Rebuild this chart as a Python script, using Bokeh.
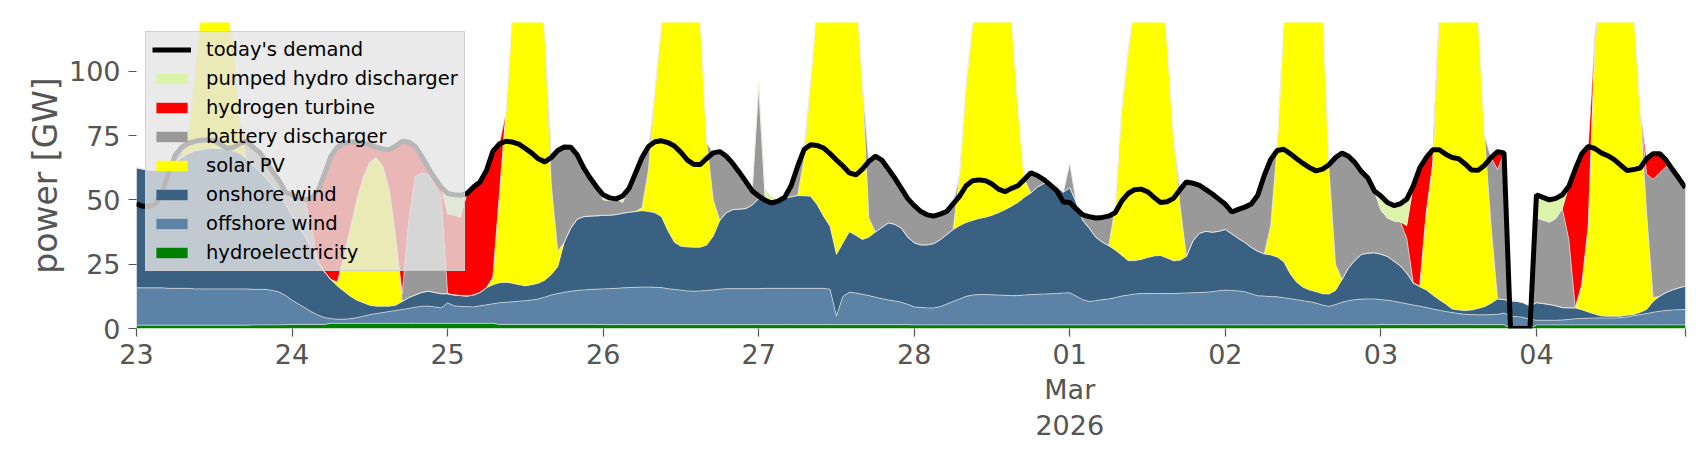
import pandas as pd
from bokeh.plotting import figure
from bokeh.models import ColumnDataSource, Range1d, FixedTicker, Legend, LegendItem
from bokeh.transform import stack
from bokeh.embed import file_html
from bokeh.resources import INLINE

# hourly time axis, 23 Feb 2026 00:00 .. 4 Mar 2026 23:00
time = pd.date_range("2026-02-23 00:00", periods=240, freq="h")

# ---- series values [GW] (one row per day) ----
hydroelectricity = [
    1.3, 1.3, 1.3, 1.3, 1.3, 1.3, 1.3, 1.3, 1.3, 1.3, 1.3, 1.3, 1.3, 1.3, 1.3, 1.3, 1.3, 1.3, 1.4, 1.4, 1.4, 1.4, 1.4, 1.5,
    1.6, 1.6, 1.6, 1.6, 1.6, 1.6, 2.0, 2.0, 2.0, 2.0, 2.0, 2.0, 2.0, 2.0, 2.0, 2.0, 2.0, 2.0, 2.0, 2.0, 2.0, 2.0, 2.0, 2.0,
    2.0, 2.0, 2.0, 2.0, 2.0, 2.0, 2.0, 2.0, 1.6, 1.6, 1.6, 1.6, 1.6, 1.6, 1.6, 1.6, 1.6, 1.6, 1.6, 1.6, 1.6, 1.6, 1.6, 1.6,
    1.5, 1.5, 1.5, 1.5, 1.5, 1.5, 1.5, 1.5, 1.5, 1.5, 1.5, 1.5, 1.5, 1.5, 1.5, 1.5, 1.5, 1.5, 1.5, 1.5, 1.5, 1.5, 1.5, 1.5,
    1.5, 1.5, 1.5, 1.5, 1.5, 1.5, 1.5, 1.5, 1.5, 1.5, 1.5, 1.5, 1.5, 1.5, 1.5, 1.5, 1.5, 1.5, 1.5, 1.5, 1.5, 1.5, 1.5, 1.5,
    1.4, 1.4, 1.4, 1.4, 1.4, 1.4, 1.4, 1.4, 1.4, 1.4, 1.4, 1.4, 1.4, 1.4, 1.4, 1.4, 1.4, 1.4, 1.4, 1.4, 1.4, 1.4, 1.4, 1.4,
    1.4, 1.4, 1.4, 1.4, 1.4, 1.4, 1.4, 1.4, 1.4, 1.4, 1.4, 1.4, 1.4, 1.4, 1.4, 1.4, 1.4, 1.4, 1.4, 1.4, 1.4, 1.4, 1.4, 1.4,
    1.4, 1.4, 1.4, 1.4, 1.4, 1.4, 1.4, 1.4, 1.4, 1.4, 1.4, 1.4, 1.4, 1.4, 1.4, 1.4, 1.4, 1.4, 1.4, 1.4, 1.4, 1.4, 1.4, 1.4,
    1.5, 1.5, 1.5, 1.5, 1.5, 1.5, 1.5, 1.5, 1.5, 1.5, 1.5, 1.5, 1.5, 1.5, 1.5, 1.5, 1.5, 1.5, 1.5, 1.5, 0.0, 0.0, 0.0, 0.0,
    1.4, 1.4, 1.4, 1.4, 1.4, 1.4, 1.4, 1.4, 1.4, 1.4, 1.4, 1.4, 1.4, 1.4, 1.4, 1.4, 1.4, 1.4, 1.4, 1.4, 1.4, 1.4, 1.4, 1.4,
]

offshore_wind = [
    14.5, 14.5, 14.5, 14.5, 14.5, 14.3, 14.3, 14.3, 14.3, 14.1, 14.1, 14.1, 14.1, 14.1, 14.1, 14.1, 14.1, 14.1, 13.8, 13.8, 13.8, 13.4, 12.8, 11.3,
    9.4, 7.9, 6.4, 4.9, 3.6, 2.7, 1.8, 1.6, 1.6, 1.8, 2.2, 2.8, 3.4, 3.8, 4.2, 4.6, 5.0, 5.4, 5.8, 6.3, 6.6, 6.7, 6.4, 6.0,
    8.0, 6.8, 6.6, 6.5, 6.4, 6.8, 7.2, 7.6, 8.4, 8.6, 8.8, 9.0, 9.2, 9.5, 9.9, 10.6, 11.4, 12.0, 12.5, 12.9, 13.2, 13.4, 13.6, 13.7,
    13.9, 14.0, 14.1, 14.3, 14.4, 14.5, 14.6, 14.6, 14.5, 14.4, 14.0, 13.7, 13.4, 13.1, 13.0, 13.1, 13.3, 13.5, 13.8, 14.0, 14.0, 14.0, 14.0, 14.0,
    14.0, 14.1, 14.1, 14.1, 14.1, 14.1, 14.1, 14.1, 14.1, 14.1, 14.1, 13.8, 3.3, 11.0, 12.6, 12.3, 11.8, 11.3, 10.7, 10.1, 9.6, 9.2, 8.7, 7.9,
    7.0, 6.8, 6.6, 6.6, 7.1, 8.1, 9.1, 10.1, 11.1, 11.6, 11.8, 11.8, 11.7, 11.6, 11.5, 11.4, 11.4, 11.6, 11.8, 11.9, 12.0, 12.1, 12.2, 12.4,
    12.5, 11.2, 9.8, 9.1, 9.4, 9.8, 10.1, 10.6, 11.2, 11.6, 12.0, 12.2, 12.2, 12.2, 12.2, 12.2, 12.2, 12.3, 12.4, 12.5, 12.6, 12.7, 12.9, 13.3,
    13.5, 13.4, 13.2, 12.9, 12.1, 11.3, 11.2, 11.0, 10.9, 10.6, 10.2, 9.8, 9.4, 9.0, 8.5, 7.7, 7.2, 7.9, 8.8, 9.4, 9.8, 10.0, 10.1, 10.1,
    9.7, 9.5, 9.1, 8.6, 8.1, 7.6, 7.2, 6.7, 6.1, 5.6, 5.1, 4.7, 4.3, 4.0, 3.9, 3.8, 3.8, 3.9, 4.0, 4.5, 4.8, 4.6, 4.3, 3.6,
    1.8, 1.8, 1.8, 1.8, 1.9, 2.1, 2.4, 2.5, 2.6, 2.7, 2.7, 2.7, 2.7, 2.8, 3.1, 3.6, 4.0, 4.4, 4.9, 5.3, 5.6, 5.8, 5.9, 6.0,
]

onshore_wind = [
    46.7, 46.2, 45.7, 45.7, 46.2, 47.4, 48.9, 50.9, 52.4, 53.6, 54.1, 54.6, 54.6, 54.6, 54.1, 53.6, 52.6, 50.6, 48.3, 45.8, 43.3, 40.7, 37.8, 35.7,
    33.0, 30.5, 28.0, 24.5, 20.8, 17.7, 15.2, 12.9, 10.9, 8.7, 6.8, 5.2, 3.6, 2.9, 2.5, 2.1, 2.0, 3.1, 4.2, 4.7, 5.4, 5.8, 5.6, 5.5,
    3.5, 4.2, 4.2, 4.1, 4.6, 5.2, 6.6, 7.4, 7.8, 7.8, 7.2, 6.4, 5.8, 5.9, 6.1, 6.6, 8.0, 10.4, 19.4, 24.5, 27.7, 28.5, 28.5, 28.5,
    28.6, 28.5, 28.7, 29.0, 29.3, 29.5, 29.7, 29.4, 29.0, 27.6, 22.5, 18.3, 17.1, 17.1, 17.1, 17.0, 17.7, 21.0, 26.7, 29.5, 30.7, 30.9, 31.1, 32.5,
    35.0, 34.7, 34.5, 34.8, 35.2, 35.6, 36.1, 36.0, 35.8, 32.6, 28.1, 24.5, 24.0, 20.8, 23.5, 22.4, 21.3, 22.7, 25.3, 27.7, 29.9, 29.8, 28.8, 26.1,
    24.9, 24.3, 24.5, 25.0, 26.0, 27.0, 28.0, 28.5, 28.7, 29.0, 29.6, 30.1, 30.9, 32.0, 33.3, 34.7, 36.2, 38.0, 39.5, 41.7, 43.0, 43.1, 41.6, 39.2,
    40.8, 36.4, 30.8, 28.5, 24.7, 22.4, 20.7, 18.5, 15.9, 13.4, 13.0, 13.2, 14.0, 14.6, 14.8, 13.8, 12.7, 12.8, 14.2, 20.1, 23.0, 23.7, 23.1, 23.1,
    23.6, 22.0, 20.4, 19.2, 18.0, 17.3, 16.4, 16.2, 15.5, 14.0, 9.7, 6.8, 5.2, 4.6, 4.4, 4.4, 4.8, 5.5, 8.8, 12.7, 15.3, 17.4, 17.8, 17.9,
    17.7, 17.0, 15.6, 14.2, 11.9, 8.6, 7.5, 6.8, 5.4, 4.1, 2.9, 1.4, 1.4, 1.5, 1.8, 2.5, 3.2, 4.4, 6.0, 5.2, 6.0, 6.0, 5.7, 5.2,
    6.8, 6.5, 6.1, 5.6, 4.8, 4.5, 4.2, 3.4, 2.4, 1.5, 0.8, 0.7, 0.7, 0.6, 0.7, 0.4, 0.9, 1.6, 4.2, 5.8, 7.0, 7.8, 8.5, 9.1,
]

solar_pv = [
    0, 0, 0, 0, 0, 0, 0, 1.0, 7.0, 31.0, 54.5, 66.0, 68.0, 63.0, 54.5, 41.0, 12.0, 0, 0, 0, 0, 0, 0, 0,
    0, 0, 0, 0, 0, 0, 0, 1.5, 13.5, 26.5, 39.0, 49.0, 55.5, 57.8, 54.3, 45.3, 26.0, 0, 0, 0, 0, 0, 0, 0,
    0, 0, 0, 0, 0, 0, 0, 3.0, 34.2, 66.0, 104.4, 118.0, 125.4, 123.0, 112.4, 96.2, 35.0, 6.0, 0, 0, 0, 0, 0, 0,
    0, 0, 0, 0, 0, 0, 1.2, 16.5, 48.0, 74.5, 97.0, 111.5, 116.0, 113.3, 103.4, 88.4, 39.5, 14.0, 0, 0, 0, 0, 0, 0,
    0, 0, 0, 0, 0, 0, 0, 14.4, 44.6, 76.8, 96.3, 110.2, 121.2, 111.7, 102.4, 98.8, 60.4, 7.5, 0, 0, 0, 0, 0, 0,
    0, 0, 0, 0, 0, 0, 0, 20.0, 53.8, 76.0, 92.2, 98.7, 101.0, 95.0, 85.8, 74.5, 37.0, 7.0, 0, 0, 0, 0, 0, 0,
    0, 0, 0, 0, 0, 0, 0, 16.5, 56.5, 81.6, 99.6, 108.2, 112.4, 111.8, 106.6, 84.6, 48.7, 21.5, 0, 0, 0, 0, 0, 0,
    0, 0, 0, 0, 0, 0, 0, 11.4, 43.2, 92.0, 113.7, 127.0, 132.0, 130.0, 123.7, 112.5, 48.6, 10.2, 0, 0, 0, 0, 0, 0,
    0, 0, 0, 0, 0, 0, 0.3, 30.0, 51.0, 110.8, 128.5, 140.4, 144.8, 143.0, 134.8, 114.2, 66.5, 30.2, 0, 0, 0, 0, 0, 0,
    0, 0, 0, 0, 0, 0, 0, 9.7, 33.6, 104.4, 130.1, 140.2, 145.2, 143.2, 134.8, 119.6, 78.7, 37.6, 1.5, 0, 0, 0, 0, 0,
]

battery_discharger = [
    0, 0, 0, 0, 0, 0, 3.0, 3.0, 0, 0, 0, 0, 0, 0, 0, 0, 0, 6.8, 7.0, 7.5, 6.5, 5.5, 5.5, 4.5,
    8.0, 10.8, 14.2, 8.0, 0, 0, 0, 0, 0, 0, 0, 0, 0, 0, 0, 0, 0, 3.0, 30.0, 46.0, 46.5, 45.5, 42.0, 38.0,
    0, 0, 0, 0, 0, 0, 0, 0, 0, 0, 0, 0, 0, 0, 0, 0, 10.5, 39.2, 37.1, 31.5, 25.0, 19.0, 14.8, 11.2,
    6.0, 5.8, 6.1, 4.2, 9.3, 15.0, 19.5, 6.8, 0, 0, 0, 0, 0, 0, 0, 0, 0, 18.3, 26.8, 22.0, 18.0, 14.4, 10.6, 5.5,
    44.0, 0, 0, 0, 0.2, 4.3, 11.3, 3.6, 0, 0, 0, 0, 0, 0, 0, 0, 0, 22.0, 29.5, 26.2, 21.0, 18.0, 15.5, 15.0,
    14.5, 13.0, 11.7, 10.7, 10.0, 9.0, 10.0, 0, 0, 0, 0, 0, 0, 0, 0, 0, 0, 0, 7.9, 4.5, 1.5, 0, 0, 0,
    9.7, 0, 2.2, 4.5, 7.5, 9.6, 11.5, 0, 0, 0, 0, 0, 0, 0, 0, 0, 0, 6.0, 29.0, 22.5, 18.7, 16.2, 14.9, 12.5,
    9.8, 8.5, 11.3, 13.7, 16.9, 21.8, 30.5, 25.7, 0, 0, 0, 0, 0, 0, 0, 0, 1.7, 41.5, 49.2, 43.5, 38.0, 32.2, 29.2, 24.1,
    17.1, 15.0, 15.6, 17.2, 13.5, 0, 0, 0, 0, 0, 0, 0, 0, 0, 0, 0, 0, 26.5, 50.3, 57.1, 0, 0, 0, 0,
    33.0, 32.5, 32.0, 34.0, 38.5, 26.6, 0, 0, 0, 0, 0, 0, 0, 0, 0, 0, 0, 15.0, 46.0, 48.0, 49.0, 46.8, 42.5, 38.2,
]

hydrogen_turbine = [
    0, 0, 0, 0, 0, 0, 0, 0, 0, 0, 0, 0, 0, 0, 0, 0, 0, 0, 0, 0, 0, 0, 0, 0,
    0, 0, 0, 11.5, 27.5, 38.0, 48.0, 52.5, 44.0, 33.5, 22.5, 13.2, 7.0, 4.0, 6.8, 15.5, 36.0, 59.3, 30.5, 11.8, 6.5, 2.5, 2.5, 3.5,
    31.0, 31.0, 30.5, 39.9, 42.0, 43.0, 45.7, 49.0, 19.8, 0, 0, 0, 0, 0, 0, 0, 0, 0, 0, 0, 0, 0, 0, 0,
    0, 0, 0, 0, 0, 0, 0, 0, 0, 0, 0, 0, 0, 0, 0, 0, 0, 0, 0, 0, 0, 0, 0, 0,
    0, 0, 0, 0, 0, 0, 0, 0, 0, 0, 0, 0, 0, 0, 0, 0, 0, 0, 0, 0, 0, 0, 0, 0,
    0, 0, 0, 0, 0, 0, 0, 0, 0, 0, 0, 0, 0, 0, 0, 0, 0, 0, 0, 0, 0, 0, 0, 0,
    0, 0, 0, 0, 0, 0, 0, 0, 0, 0, 0, 0, 0, 0, 0, 0, 0, 0, 0, 0, 0, 0, 0, 0,
    0, 0, 0, 0, 0, 0, 0, 0, 0, 0, 0, 0, 0, 0, 0, 0, 0, 0, 0, 0, 0, 0, 0, 0,
    0, 0, 0, 0, 5.0, 37.8, 46.0, 21.5, 5.5, 2.0, 0, 0, 0, 0, 0, 0, 0, 0, 7.0, 0, 0, 0, 0, 0,
    0, 0, 0, 0, 0, 20.7, 54.0, 51.0, 30.8, 3.0, 0, 0, 0, 0, 0, 0, 0, 6.0, 10.0, 7.5, 2.5, 0, 0, 0,
]

pumped_hydro_discharger = [
    0, 0, 0, 0, 0, 0, 0, 0, 0, 0, 0, 0, 0, 0, 0, 0, 0, 0, 0, 0, 0, 0, 0, 0,
    0, 0, 0, 0, 0, 0, 0, 0, 0, 0, 0, 0, 0, 0, 0, 0, 0, 0, 0, 0, 0, 0, 0, 0,
    8.0, 8.0, 8.5, 0, 0, 0, 0, 0, 0, 0, 0, 0, 0, 0, 0, 0, 0, 0, 0, 0, 0, 0, 0, 0,
    2.0, 1.0, 0, 2.5, 0, 0, 0, 2.0, 0, 0, 0, 0, 0, 0, 0, 0, 0, 0, 0, 0, 0, 0, 0, 0,
    2.0, 4.0, 1.0, 0, 0, 0, 0, 0, 0, 0, 0, 0, 0, 0, 0, 0, 0, 0, 0, 0, 0, 0, 0, 0,
    0, 0, 0, 0, 0, 0, 0, 0, 0, 0, 0, 0, 0, 0, 0, 0, 0, 0, 0, 0, 0, 0, 0, 0,
    0, 0, 0, 0, 0, 0, 0, 0, 0, 0, 0, 0, 0, 0, 0, 0, 0, 0, 0, 0, 0, 0, 0, 0,
    0, 0, 0, 0, 0, 0, 0, 0, 0, 0, 0, 0, 0, 0, 0, 0, 0, 0, 0, 0, 0, 0, 0, 0,
    5.5, 6.0, 6.0, 7.0, 10.3, 0, 0, 0, 0, 0, 0, 0, 0, 0, 0, 0, 0, 0, 0, 0, 0, 0, 0, 0,
    9.0, 8.8, 8.7, 7.8, 5.4, 0, 0, 0, 0, 0, 0, 0, 0, 0, 0, 0, 0, 0, 0, 0, 0, 0, 0, 0,
]

todays_demand = [
    48.5, 47.5, 47.5, 48.5, 53.0, 61.0, 67.5, 70.5, 72.0, 72.8, 73.2, 73.4, 73.0, 71.5, 70.0, 70.5, 72.0, 72.8, 70.5, 68.5, 65.0, 61.0, 57.5, 53.0,
    52.0, 50.8, 50.2, 50.5, 53.5, 60.0, 67.0, 70.5, 72.0, 72.5, 72.5, 72.2, 71.5, 70.5, 69.8, 69.5, 71.0, 72.8, 72.5, 70.8, 67.0, 62.5, 58.5, 55.0,
    52.5, 52.0, 51.8, 52.5, 55.0, 57.0, 61.5, 69.0, 71.8, 72.8, 72.5, 71.7, 70.0, 68.2, 66.0, 64.8, 66.5, 69.2, 70.6, 70.5, 67.5, 62.5, 58.5, 55.0,
    52.0, 50.8, 50.4, 51.5, 54.5, 60.5, 66.5, 70.8, 72.6, 73.0, 72.3, 71.0, 68.5, 65.5, 63.8, 63.8, 66.2, 68.3, 68.8, 67.0, 64.2, 60.8, 57.2, 53.5,
    51.5, 49.8, 48.8, 49.5, 51.0, 55.5, 63.0, 69.6, 71.5, 71.2, 70.2, 68.0, 65.5, 63.2, 60.5, 59.7, 62.0, 65.0, 67.0, 65.5, 62.0, 58.5, 54.5, 50.5,
    47.8, 45.5, 44.2, 43.7, 44.5, 45.5, 48.5, 51.5, 55.5, 57.5, 57.8, 57.5, 56.2, 54.2, 53.2, 54.5, 55.5, 58.0, 60.6, 59.5, 57.9, 55.8, 53.5, 49.2,
    49.0, 46.5, 44.2, 43.5, 43.0, 43.2, 43.7, 45.0, 49.5, 52.5, 54.0, 54.2, 53.2, 51.0, 49.0, 49.3, 50.6, 54.0, 57.0, 56.5, 55.7, 54.0, 52.3, 50.3,
    48.3, 45.3, 46.3, 47.2, 48.4, 51.8, 59.5, 65.7, 69.2, 69.7, 68.0, 66.0, 64.2, 62.5, 61.3, 62.0, 63.7, 66.5, 68.2, 67.0, 64.5, 61.0, 58.5, 53.5,
    51.5, 49.0, 47.8, 48.5, 50.3, 55.5, 62.5, 66.5, 69.5, 69.5, 67.8, 66.5, 66.0, 64.0, 61.6, 61.5, 63.5, 66.5, 68.8, 68.3, 0.0, 0.0, 0.0, 0.0,
    52.0, 51.0, 50.0, 50.6, 52.0, 55.3, 62.0, 68.0, 70.8, 70.0, 68.3, 67.2, 65.7, 63.5, 61.4, 61.8, 62.4, 66.0, 68.0, 68.0, 65.5, 61.8, 58.3, 54.7,
]

stack_names = ["hydroelectricity", "offshore wind", "onshore wind", "solar PV",
               "battery discharger", "hydrogen turbine", "pumped hydro discharger"]
stack_cols = ["hydro", "offshore", "onshore", "solar", "battery", "hydrogen", "pumped"]
stack_colors = ["#008000", "#5c83a5", "#3b6182", "#ffff00", "#999999", "#ff0000", "#dbf4a9"]

day_ticks = ["2026-02-23", "2026-02-24", "2026-02-25", "2026-02-26", "2026-02-27",
             "2026-02-28", "2026-03-01", "2026-03-02", "2026-03-03", "2026-03-04"]
day_labels = ["23", "24", "25", "26", "27", "28", "01\nMar\n2026", "02", "03", "04"]
y_ticks = [0, 25, 50, 75, 100]

source = ColumnDataSource(dict(
    time=time, hydro=hydroelectricity, offshore=offshore_wind, onshore=onshore_wind,
    solar=solar_pv, battery=battery_discharger, hydrogen=hydrogen_turbine,
    pumped=pumped_hydro_discharger, demand=todays_demand,
))

p = figure(
    x_axis_type="datetime",
    frame_width=1549, frame_height=306,
    min_border_left=136, min_border_right=10, min_border_top=22, min_border_bottom=110,
    x_range=Range1d(time[0], time[-1]),
    y_range=Range1d(0, 119),
    output_backend="svg", toolbar_location=None,
    background_fill_color="white", border_fill_color="white",
)
p.outline_line_color = None
p.grid.visible = False

areas = p.varea_stack(stackers=stack_cols, x="time", color=stack_colors, source=source)
# thin light edges between the stacked layers
for k in range(1, len(stack_cols)):
    p.line("time", stack(*stack_cols[:k]), source=source,
           line_color="#eeeeee", line_width=0.8, line_alpha=0.8)
demand_line = p.line("time", "demand", source=source, line_color="black", line_width=5)

def to_ms(s):
    return float((pd.Timestamp(s) - pd.Timestamp("1970-01-01")) // pd.Timedelta("1ms"))

tick_ms = [to_ms(d) for d in day_ticks]
p.xaxis.ticker = FixedTicker(ticks=tick_ms, minor_ticks=[to_ms(time[-1])])
p.xaxis.major_label_overrides = {t: lab for t, lab in zip(tick_ms, day_labels)}
p.yaxis.ticker = FixedTicker(ticks=y_ticks)

grey = "#555555"
for ax in (p.xaxis[0], p.yaxis[0]):
    ax.axis_line_color = None
    ax.major_tick_line_color = grey
    ax.major_tick_line_width = 1.2
    ax.major_tick_in = 0
    ax.major_tick_out = 8
    ax.minor_tick_line_color = grey
    ax.minor_tick_line_width = 1.2
    ax.minor_tick_in = 0
    ax.minor_tick_out = 8
    ax.major_label_text_font = "DejaVu Sans"
    ax.major_label_text_font_size = "27px"
    ax.major_label_text_color = grey
    ax.major_label_text_line_height = 1.15
p.yaxis.minor_tick_line_color = None
p.xaxis.major_label_standoff = 2
p.yaxis.major_label_standoff = 8
p.yaxis.axis_label = "power [GW]"
p.yaxis.axis_label_text_font = "DejaVu Sans"
p.yaxis.axis_label_text_font_size = "33px"
p.yaxis.axis_label_text_font_style = "normal"
p.yaxis.axis_label_text_color = grey
p.yaxis.axis_label_standoff = 1

items = [LegendItem(label="today's demand", renderers=[demand_line])]
for i in range(len(stack_cols) - 1, -1, -1):
    items.append(LegendItem(label=stack_names[i], renderers=[areas[i]]))
legend = Legend(
    items=items, location="top_left", margin=9, padding=6, spacing=6,
    glyph_width=39, glyph_height=13, label_standoff=15,
    label_text_font="DejaVu Sans", label_text_font_size="19.5px", label_text_color="black",
    background_fill_color="#e5e5e5", background_fill_alpha=0.8,
    border_line_color="#cccccc", border_line_alpha=0.8, border_line_width=1,
)
p.add_layout(legend)

open("out.html", "w").write(file_html(p, INLINE))
